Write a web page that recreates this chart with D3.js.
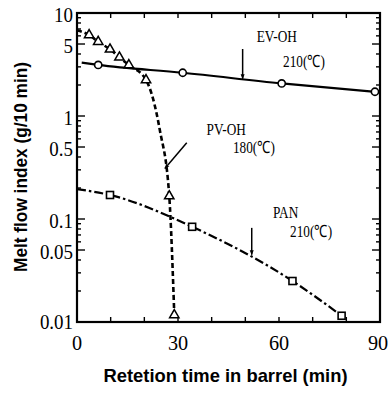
<!DOCTYPE html>
<html><head><meta charset="utf-8">
<script src="https://cdn.jsdelivr.net/npm/d3@7"></script>
<style>
html,body{margin:0;padding:0;background:#fff;}
svg{display:block;}
</style></head>
<body>
<svg id="c" width="390" height="396"></svg>
<script>
// ---- data ----
const xTicks = [0, 30, 60, 90];
const xMinorTicks = [10, 20, 40, 50, 70, 80];
const yLabelTicks = [10, 5, 1, 0.5, 0.1, 0.05, 0.01];
const yTickLabels = ["10", "5", "1", "0.5", "0.1", "0.05", "0.01"];

// EV-OH 210 C (circles, solid)
const evT = [6.3, 31.4, 60.8, 88.5];
const evV = [3.13, 2.63, 2.07, 1.72];
const evLineT = [1.4, 6.3, 31.4, 60.8, 88.5];
const evLineV = [3.30, 3.13, 2.63, 2.07, 1.72];

// PV-OH 180 C (triangles, dashed)
const pvT = [3.6, 6.3, 9.8, 12.6, 15.4, 20.5, 27.4, 28.9];
const pvV = [6.12, 5.26, 4.44, 3.71, 3.13, 2.24, 0.167, 0.0117];
const pvLineT = [0, 3.6, 6.3, 9.8, 12.6, 15.4, 20.5, 24.6, 27.4, 28.9];
const pvLineV = [6.8, 6.12, 5.26, 4.44, 3.71, 3.13, 2.24, 0.73, 0.167, 0.0117];

// PAN 210 C (squares, dash-dot)
const panT = [9.8, 34.2, 64.0, 78.6];
const panV = [0.171, 0.084, 0.025, 0.0115];
const panLineT = [0, 9.8, 34.2, 64.0, 78.6];
const panLineV = [0.195, 0.171, 0.084, 0.025, 0.0115];

// annotations: label text and anchor (time, value)
const annLabels = ["EV-OH", "210(\u2103)", "PV-OH", "180(\u2103)", "PAN", "210(\u2103)"];
const annT = [53.4, 61.2, 38.5, 46.3, 58.2, 63.3];
const annV = [5.24, 3.0, 0.65, 0.44, 0.103, 0.067];
// arrows: from (t1,v1) to (t2,v2)
const arrT1 = [49.2, 32.6, 51.9];
const arrV1 = [4.47, 0.55, 0.082];
const arrT2 = [49.2, 26.1, 51.9];
const arrV2 = [2.30, 0.31, 0.045];

// ---- layout ----
const svg = d3.select("#c");
const L = 77, R = 380, T = 13, B = 322;
const x = d3.scaleLinear().domain([0, 90]).range([L, R]);
const y = d3.scaleLog().domain([0.01, 10]).range([B, T]);

const serif = "'Liberation Serif','Times New Roman',serif";
const sansN = "'Liberation Sans Narrow','Liberation Sans',Arial,sans-serif";

// ticks
const yMinor = [];
[0.01, 0.1, 1].forEach(d => { for (let k = 2; k <= 9; k++) if (k !== 5) yMinor.push(d * k); });
const yMajor = [0.05, 0.1, 0.5, 1, 5];

const tk = svg.append("g").attr("stroke", "#000").attr("stroke-width", 1.4);
yMinor.forEach(v => {
  tk.append("line").attr("x1", x(0)).attr("x2", x(0) + 4).attr("y1", y(v)).attr("y2", y(v));
  tk.append("line").attr("x1", x(90)).attr("x2", x(90) - 4).attr("y1", y(v)).attr("y2", y(v));
});
yMajor.forEach(v => {
  tk.append("line").attr("x1", x(0)).attr("x2", x(0) + 8).attr("y1", y(v)).attr("y2", y(v));
  tk.append("line").attr("x1", x(90)).attr("x2", x(90) - 8).attr("y1", y(v)).attr("y2", y(v));
});
xMinorTicks.concat([30, 60]).forEach(t => {
  tk.append("line").attr("x1", x(t)).attr("x2", x(t)).attr("y1", y(0.01)).attr("y2", y(0.01) - 5);
  tk.append("line").attr("x1", x(t)).attr("x2", x(t)).attr("y1", y(10)).attr("y2", y(10) + 5);
});

// frame
svg.append("rect").attr("x", x(0)).attr("y", y(10))
  .attr("width", x(90) - x(0)).attr("height", y(0.01) - y(10))
  .attr("fill", "none").attr("stroke", "#000").attr("stroke-width", 2.2);

// tick labels
const yl = svg.append("g").attr("font-family", serif).attr("font-size", 22).attr("fill", "#000");
yLabelTicks.forEach((v, i) => {
  const t = yl.append("text").attr("x", x(0) - 4).attr("y", y(v))
    .attr("dy", v === 0.01 ? "0.3em" : "0.42em")
    .attr("text-anchor", "end").text(yTickLabels[i]);
  const w = t.node().getComputedTextLength();
  t.attr("textLength", w * 0.86).attr("lengthAdjust", "spacingAndGlyphs");
});
xTicks.forEach(tv => {
  const t = yl.append("text").attr("x", x(tv) - (tv === 90 ? 2 : 0)).attr("y", y(0.01) + 28)
    .attr("text-anchor", "middle").text(String(tv));
  const w = t.node().getComputedTextLength();
  t.attr("textLength", w * 0.92).attr("lengthAdjust", "spacingAndGlyphs");
});

// axis titles
svg.append("text").attr("x", (L + R) / 2 - 3).attr("y", 382)
  .attr("text-anchor", "middle").attr("font-family", sansN).attr("font-weight", "bold")
  .attr("font-size", 19).attr("textLength", 244).attr("lengthAdjust", "spacingAndGlyphs")
  .text("Retetion time in barrel (min)");
svg.append("text").attr("transform", `translate(27,167) rotate(-90)`)
  .attr("text-anchor", "middle").attr("font-family", sansN).attr("font-weight", "bold")
  .attr("font-size", 19).attr("textLength", 210).attr("lengthAdjust", "spacingAndGlyphs")
  .text("Melt flow index (g/10 min)");

// lines
const mk = (ts, vs) => ts.map((t, i) => [t, vs[i]]);
const line = d3.line().x(d => x(d[0])).y(d => y(d[1])).curve(d3.curveMonotoneX);

svg.append("path").datum(mk(evLineT, evLineV)).attr("d", line)
  .attr("fill", "none").attr("stroke", "#000").attr("stroke-width", 2.2);
svg.append("path").datum(mk(pvLineT, pvLineV)).attr("d", line)
  .attr("fill", "none").attr("stroke", "#000").attr("stroke-width", 2.6)
  .attr("stroke-dasharray", "5,3");
svg.append("path").datum(mk(panLineT, panLineV)).attr("d", line)
  .attr("fill", "none").attr("stroke", "#000").attr("stroke-width", 2.2)
  .attr("stroke-dasharray", "9,3,2.5,3");

// markers
svg.append("g").selectAll("circle").data(mk(evT, evV)).join("circle")
  .attr("cx", d => x(d[0])).attr("cy", d => y(d[1])).attr("r", 3.6)
  .attr("fill", "#fff").attr("stroke", "#000").attr("stroke-width", 1.6);
const tri = d3.symbol().type(d3.symbolTriangle).size(38);
svg.append("g").selectAll("path").data(mk(pvT, pvV)).join("path")
  .attr("d", tri).attr("transform", d => `translate(${x(d[0])},${y(d[1])})`)
  .attr("fill", "#fff").attr("stroke", "#000").attr("stroke-width", 1.5);
svg.append("g").selectAll("rect").data(mk(panT, panV)).join("rect")
  .attr("x", d => x(d[0]) - 3.5).attr("y", d => y(d[1]) - 3.5).attr("width", 7).attr("height", 7)
  .attr("fill", "#fff").attr("stroke", "#000").attr("stroke-width", 1.6);

// annotations
const an = svg.append("g").attr("font-family", serif).attr("font-size", 17).attr("fill", "#000");
annLabels.forEach((s, i) => {
  const t = an.append("text").attr("x", x(annT[i])).attr("y", y(annV[i])).text(s);
  const w = t.node().getComputedTextLength();
  t.attr("textLength", w * 0.78).attr("lengthAdjust", "spacingAndGlyphs");
});
svg.append("defs").append("marker").attr("id", "ah").attr("viewBox", "0 0 10 10")
  .attr("refX", 9).attr("refY", 5).attr("markerWidth", 5).attr("markerHeight", 7)
  .attr("markerUnits", "userSpaceOnUse").attr("orient", "auto")
  .append("path").attr("d", "M0,1 L10,5 L0,9 Z").attr("fill", "#000");
arrT1.forEach((t, i) => {
  svg.append("line").attr("x1", x(t)).attr("y1", y(arrV1[i]))
    .attr("x2", x(arrT2[i])).attr("y2", y(arrV2[i]))
    .attr("stroke", "#000").attr("stroke-width", 1.5).attr("marker-end", "url(#ah)");
});
</script>
</body></html>
